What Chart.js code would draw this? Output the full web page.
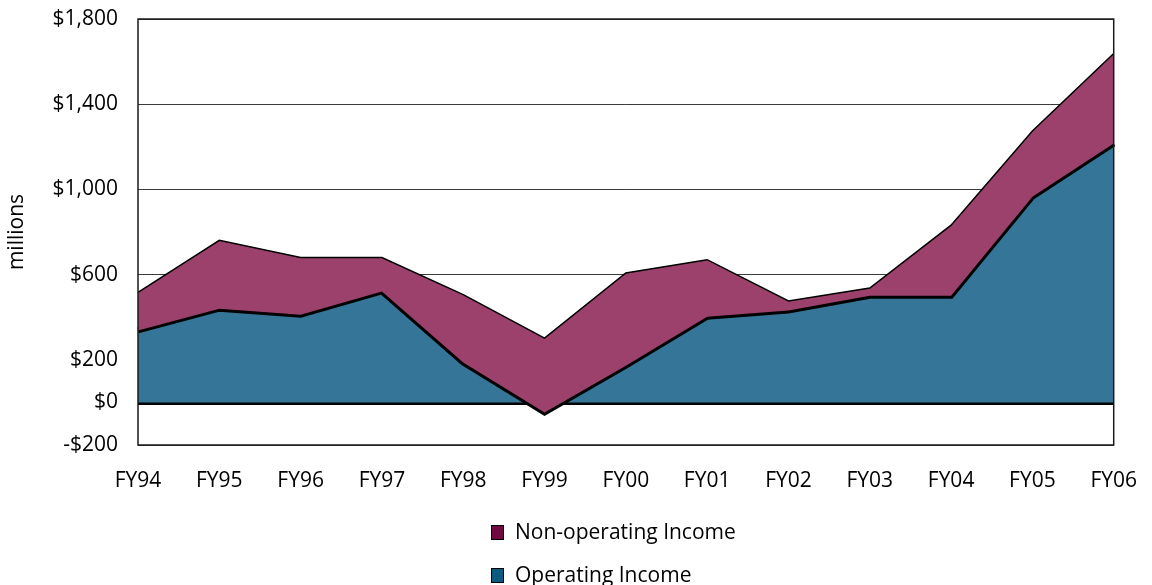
<!DOCTYPE html>
<html>
<head>
<meta charset="utf-8">
<script src="https://cdn.jsdelivr.net/npm/chart.js@4/dist/chart.umd.min.js"></script>
<style>
  body { margin: 0; background: #fff; }
  #wrap { position: relative; width: 1152px; height: 585px; overflow: hidden; font-family: "Open Sans", sans-serif; }
  .legend-row { position: absolute; left: 491px; font-size: 21px; line-height: 26px; color: #000; white-space: nowrap; }
  .legend-row .box { display: inline-block; width: 11px; height: 13px; border: 1px solid #000; margin-right: 11px; vertical-align: -1px; }
</style>
</head>
<body>
<div id="wrap">
  <canvas id="chart" width="1152" height="585"></canvas>
  <div id="legend"></div>
</div>
<script>
// values in $ millions
const years = ['FY94', 'FY95', 'FY96', 'FY97', 'FY98', 'FY99', 'FY00', 'FY01', 'FY02', 'FY03', 'FY04', 'FY05', 'FY06'];
const operatingIncome = [338, 440, 412, 521, 187, -48, 172, 402, 431, 501, 501, 966, 1215];
const nonOperatingIncome = [179, 321, 268, 159, 319, 350, 436, 268, 45, 36, 331, 308, 423];
const seriesNames = ['Non-operating Income', 'Operating Income'];
const yTicks = [-200, 0, 200, 600, 1000, 1400, 1800];

const font = { family: '"Open Sans", sans-serif', size: 21 };
const legendColors = ['#6e0a40', '#0b5a80'];

// top edge of the non-operating band sits on the operating line
const totals = operatingIncome.map((v, i) => v + nonOperatingIncome[i]);

function money(v) {
    const s = '$' + Math.abs(v).toLocaleString('en-US');
    return v < 0 ? '-' + s : s;
}

const plotFrame = {
    id: 'plotFrame',
    afterDatasetsDraw(chart) {
        const { ctx, chartArea: a } = chart;
        ctx.save();
        ctx.strokeStyle = '#1a1a1a';
        ctx.lineWidth = 1.5;
        ctx.strokeRect(a.left, a.top, a.right - a.left, a.bottom - a.top);
        ctx.restore();
    }
};

new Chart(document.getElementById('chart'), {
    type: 'line',
    data: {
        labels: years,
        datasets: [
            {
                label: seriesNames[0],
                data: totals,
                backgroundColor: '#9b416c',
                borderColor: '#000',
                borderWidth: 1.5,
                pointRadius: 0,
                tension: 0,
                fill: '+1'
            },
            {
                label: seriesNames[1],
                data: operatingIncome,
                backgroundColor: '#357698',
                borderColor: '#000',
                borderWidth: 6,
                pointRadius: 0,
                tension: 0,
                fill: 'origin'
            }
        ]
    },
    plugins: [plotFrame],
    options: {
        responsive: false,
        animation: false,
        layout: { padding: { left: 4, right: 26, top: 19, bottom: 90 } },
        plugins: {
            legend: { display: false },
            tooltip: { enabled: false }
        },
        scales: {
            x: {
                type: 'category',
                offset: false,
                grid: { display: false },
                border: { display: false },
                ticks: { color: '#000', font: font, padding: 15, maxRotation: 0, autoSkip: false },
                afterFit(scale) { scale.height = 50; }
            },
            y: {
                min: -200,
                max: 1800,
                afterBuildTicks(scale) { scale.ticks = yTicks.map(v => ({ value: v })); },
                border: { display: false },
                grid: {
                    drawTicks: false,
                    color: c => c.tick.value === 0 ? '#000' : '#3a3a3a',
                    lineWidth: c => c.tick.value === 0 ? 6 : 1
                },
                ticks: { color: '#000', font: font, padding: 20, callback: v => money(v) },
                title: { display: true, text: 'millions', color: '#000', font: font, padding: { top: 0, bottom: 0 } },
                afterFit(scale) {
                    scale.width = 134;
                    scale.paddingTop = 0;
                    scale.paddingBottom = 0;
                }
            }
        }
    }
});

const legend = document.getElementById('legend');
seriesNames.forEach((name, i) => {
    const row = document.createElement('div');
    row.className = 'legend-row';
    row.style.top = (518 + i * 42.5) + 'px';
    const box = document.createElement('span');
    box.className = 'box';
    box.style.background = legendColors[i];
    row.appendChild(box);
    row.appendChild(document.createTextNode(name));
    legend.appendChild(row);
});
</script>
</body>
</html>
